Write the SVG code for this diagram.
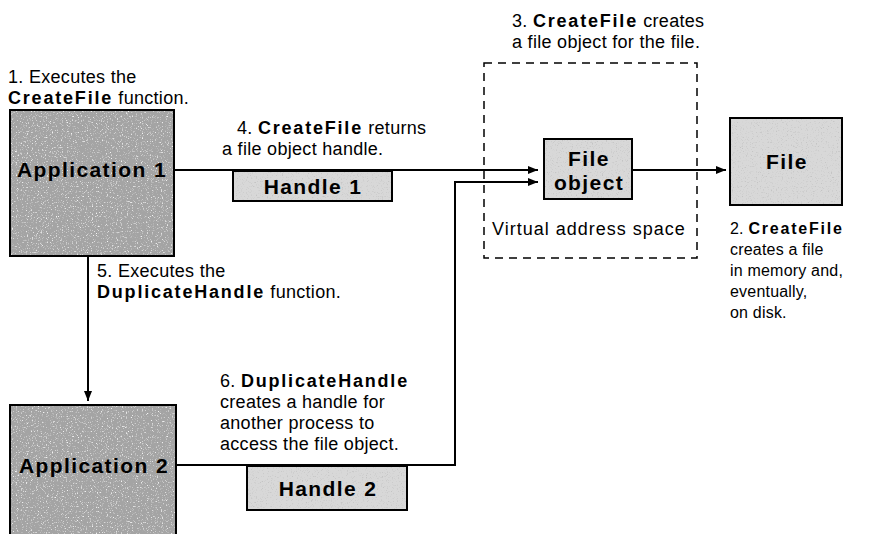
<svg xmlns="http://www.w3.org/2000/svg" width="870" height="534" viewBox="0 0 870 534">
<defs>
<style>
.t{font-family:"Liberation Sans",Arial,sans-serif;font-size:18px;letter-spacing:0.3px;fill:#000}
.s{font-size:16px;letter-spacing:0.2px}
.b{font-weight:bold;letter-spacing:1.8px}
.lbl{font-family:"Liberation Sans",Arial,sans-serif;font-size:21px;font-weight:bold;letter-spacing:1.4px;fill:#000;text-anchor:middle}
.dark{fill:#a4a4a4;stroke:#000;stroke-width:2}
.light{fill:#d8d8d8;stroke:#000;stroke-width:2}
.gw{fill:#fff;filter:url(#grainW)}
.gd{fill:#000;filter:url(#grainD)}
.ln{fill:none;stroke:#000;stroke-width:2}
.dash{fill:none;stroke:#000;stroke-width:1.5;stroke-dasharray:8,6}
</style>
<filter id="grainW" x="0" y="0" width="100%" height="100%">
<feTurbulence type="fractalNoise" baseFrequency="0.8" numOctaves="2" seed="4" result="n"/>
<feColorMatrix in="n" type="matrix" values="0 0 0 0 0.9  0 0 0 0 0.9  0 0 0 0 0.9  4 0 0 0 -2.3" result="m"/>
<feComposite in="m" in2="SourceGraphic" operator="in"/>
</filter>
<filter id="grainD" x="0" y="0" width="100%" height="100%">
<feTurbulence type="fractalNoise" baseFrequency="0.8" numOctaves="2" seed="9" result="n"/>
<feColorMatrix in="n" type="matrix" values="0 0 0 0 0.55  0 0 0 0 0.55  0 0 0 0 0.55  4 0 0 0 -2.3" result="m"/>
<feComposite in="m" in2="SourceGraphic" operator="in"/>
</filter>
<marker id="ah" markerWidth="10" markerHeight="8" refX="10" refY="4" orient="auto" markerUnits="userSpaceOnUse">
<path d="M0,0 L10,4 L0,8 Z" fill="#000"/>
</marker>
</defs>
<rect width="870" height="534" fill="#fff"/>

<g id="vas">
<rect class="dash" x="484" y="63" width="213" height="195"/>
<text class="t" x="492" y="235" textLength="193">Virtual address space</text>
</g>

<g id="connectors">
<path class="ln" d="M174,170 H538" marker-end="url(#ah)"/>
<path class="ln" d="M632,170 H726" marker-end="url(#ah)"/>
<path class="ln" d="M88,256 V401" marker-end="url(#ah)"/>
<path class="ln" d="M176,465 H455 V182 H538" marker-end="url(#ah)"/>
</g>

<g id="app1">
<rect class="dark" x="10" y="110" width="164" height="146"/>
<rect class="gw" x="11" y="111" width="162" height="144"/>
<text class="lbl" x="92" y="177">Application 1</text>
</g>
<g id="handle1">
<rect class="light" x="233" y="171" width="159" height="30"/>
<rect class="gd" x="234" y="172" width="157" height="28"/>
<text class="lbl" x="313" y="194">Handle 1</text>
</g>
<g id="fileobject">
<rect class="light" x="544" y="139" width="88" height="60"/>
<rect class="gd" x="545" y="140" width="86" height="58"/>
<text class="lbl" x="589" y="166">File</text>
<text class="lbl" x="589" y="190">object</text>
</g>
<g id="file">
<rect class="light" x="730" y="118" width="112" height="87"/>
<rect class="gd" x="731" y="119" width="110" height="85"/>
<text class="lbl" x="787" y="169">File</text>
</g>
<g id="app2">
<rect class="dark" x="10" y="405" width="166" height="140"/>
<rect class="gw" x="11" y="406" width="164" height="128"/>
<text class="lbl" x="94" y="473">Application 2</text>
</g>
<g id="handle2">
<rect class="light" x="247" y="466" width="160" height="44"/>
<rect class="gd" x="248" y="467" width="158" height="42"/>
<text class="lbl" x="328" y="496">Handle 2</text>
</g>

<g id="labels">
<text class="t" x="8" y="83">1. Executes the</text>
<text class="t" x="8" y="104"><tspan class="b">CreateFile</tspan> function.</text>
<text class="t" x="237" y="134">4. <tspan class="b">CreateFile</tspan> returns</text>
<text class="t" x="222" y="155">a file object handle.</text>
<text class="t" x="512" y="27">3. <tspan class="b">CreateFile</tspan> creates</text>
<text class="t" x="512" y="48">a file object for the file.</text>
<text class="t s" x="730" y="234">2. <tspan class="b">CreateFile</tspan></text>
<text class="t s" x="730" y="255">creates a file</text>
<text class="t s" x="730" y="276">in memory and,</text>
<text class="t s" x="730" y="297">eventually,</text>
<text class="t s" x="730" y="318">on disk.</text>
<text class="t" x="97" y="277">5. Executes the</text>
<text class="t" x="97" y="298"><tspan class="b">DuplicateHandle</tspan> function.</text>
<text class="t" x="220" y="387">6. <tspan class="b">DuplicateHandle</tspan></text>
<text class="t" x="220" y="408">creates a handle for</text>
<text class="t" x="220" y="429">another process to</text>
<text class="t" x="220" y="450">access the file object.</text>
</g>
</svg>
